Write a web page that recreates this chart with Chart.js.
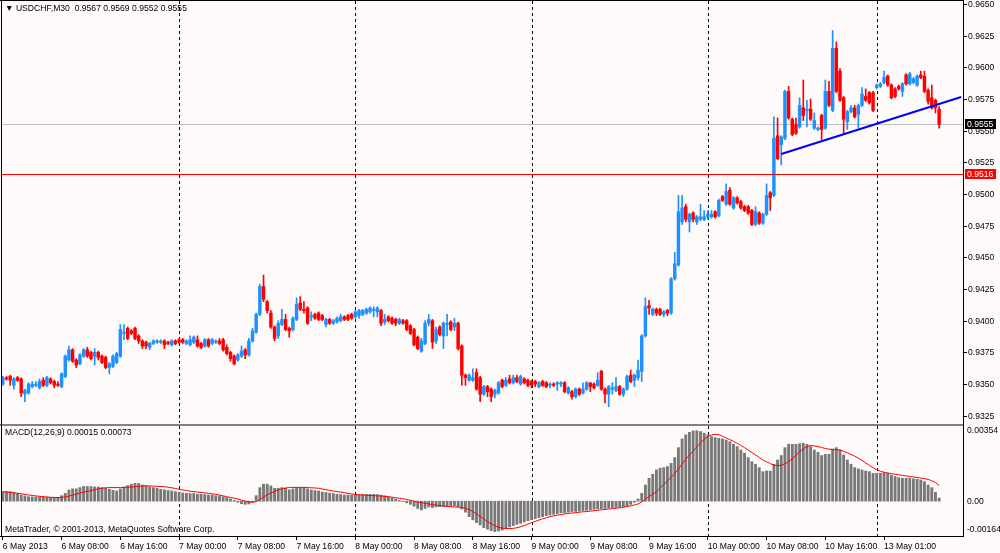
<!DOCTYPE html>
<html>
<head>
<meta charset="utf-8">
<script src="https://cdn.jsdelivr.net/npm/chart.js@4.4.1/dist/chart.umd.min.js"></script>
<style>
  html, body { margin: 0; padding: 0; background: #fffafa; }
  #wrap { position: relative; width: 1000px; height: 553px; overflow: hidden; background: #fffafa; }
  canvas { position: absolute; left: 0; }
  #main { top: 0; width: 1000px; height: 424px; }
  #macd { top: 424px; width: 1000px; height: 129px; }
</style>
</head>
<body>
<div id="wrap">
  <canvas id="main" width="1000" height="424"></canvas>
  <canvas id="macd" width="1000" height="129"></canvas>
</div>
<script>
// USDCHF M30, 6 May 2013 00:00 -> 13 May 2013 ~09:00 (256 bars)
const open = [
  0.9350,0.9355,0.9356,0.9349,0.9355,0.9354,0.9342,0.9343,0.9348,0.9349,
  0.9347,0.9353,0.9349,0.9354,0.9352,0.9350,0.9348,0.9356,0.9369,0.9377,
  0.9369,0.9366,0.9372,0.9377,0.9375,0.9372,0.9375,0.9372,0.9371,0.9363,
  0.9364,0.9367,0.9372,0.9390,0.9394,0.9392,0.9394,0.9388,0.9384,0.9383,
  0.9379,0.9382,0.9383,0.9383,0.9384,0.9383,0.9381,0.9384,0.9385,0.9385,
  0.9382,0.9381,0.9383,0.9385,0.9382,0.9380,0.9385,0.9382,0.9383,0.9384,
  0.9385,0.9379,0.9375,0.9372,0.9369,0.9372,0.9377,0.9373,0.9384,0.9391,
  0.9405,0.9427,0.9415,0.9406,0.9395,0.9388,0.9397,0.9401,0.9394,0.9393,
  0.9401,0.9414,0.9409,0.9410,0.9403,0.9405,0.9406,0.9404,0.9397,0.9401,
  0.9398,0.9399,0.9400,0.9403,0.9404,0.9405,0.9403,0.9404,0.9405,0.9406,
  0.9407,0.9408,0.9407,0.9408,0.9399,0.9403,0.9402,0.9401,0.9398,0.9400,
  0.9400,0.9396,0.9393,0.9387,0.9376,0.9382,0.9398,0.9400,0.9384,0.9395,
  0.9388,0.9397,0.9399,0.9395,0.9398,0.9380,0.9357,0.9353,0.9353,0.9359,
  0.9355,0.9342,0.9348,0.9346,0.9342,0.9343,0.9353,0.9349,0.9354,0.9351,
  0.9355,0.9350,0.9354,0.9353,0.9352,0.9352,0.9348,0.9352,0.9351,0.9349,
  0.9350,0.9350,0.9350,0.9351,0.9343,0.9344,0.9340,0.9346,0.9343,0.9346,
  0.9351,0.9350,0.9349,0.9360,0.9346,0.9342,0.9346,0.9345,0.9348,0.9342,
  0.9346,0.9357,0.9353,0.9355,0.9360,0.9388,0.9412,0.9405,0.9409,0.9409,
  0.9405,0.9408,0.9406,0.9433,0.9444,0.9478,0.9490,0.9478,0.9485,0.9478,
  0.9480,0.9480,0.9482,0.9482,0.9486,0.9483,0.9498,0.9492,0.9503,0.9489,
  0.9497,0.9494,0.9490,0.9490,0.9487,0.9476,0.9485,0.9477,0.9484,0.9501,
  0.9499,0.9546,0.9539,0.9544,0.9581,0.9559,0.9555,0.9553,0.9568,0.9566,
  0.9567,0.9552,0.9551,0.9562,0.9552,0.9581,0.9566,0.9615,0.9597,0.9576,
  0.9557,0.9565,0.9568,0.9563,0.9570,0.9577,0.9580,0.9580,0.9584,0.9585,
  0.9588,0.9593,0.9586,0.9583,0.9585,0.9581,0.9594,0.9587,0.9588,0.9586,
  0.9594,0.9593,0.9582,0.9576,0.9574,0.9567
];
const high = [
  0.9356,0.9356,0.9357,0.9355,0.9356,0.9355,0.9346,0.9351,0.9352,0.9352,
  0.9354,0.9355,0.9356,0.9355,0.9353,0.9352,0.9359,0.9373,0.9380,0.9378,
  0.9370,0.9374,0.9378,0.9379,0.9376,0.9378,0.9376,0.9373,0.9372,0.9367,
  0.9373,0.9375,0.9397,0.9397,0.9395,0.9393,0.9395,0.9389,0.9385,0.9384,
  0.9383,0.9385,0.9385,0.9385,0.9385,0.9384,0.9385,0.9385,0.9386,0.9386,
  0.9385,0.9388,0.9388,0.9388,0.9383,0.9386,0.9386,0.9386,0.9385,0.9386,
  0.9386,0.9381,0.9376,0.9373,0.9374,0.9380,0.9378,0.9386,0.9394,0.9406,
  0.9429,0.9436,0.9416,0.9408,0.9396,0.9400,0.9409,0.9405,0.9395,0.9403,
  0.9418,0.9419,0.9415,0.9411,0.9407,0.9406,0.9407,0.9405,0.9402,0.9402,
  0.9401,0.9403,0.9405,0.9404,0.9405,0.9406,0.9408,0.9409,0.9409,0.9410,
  0.9411,0.9411,0.9411,0.9409,0.9405,0.9404,0.9403,0.9402,0.9402,0.9401,
  0.9401,0.9397,0.9394,0.9388,0.9386,0.9400,0.9405,0.9401,0.9395,0.9396,
  0.9399,0.9405,0.9400,0.9402,0.9399,0.9381,0.9358,0.9358,0.9362,0.9362,
  0.9356,0.9349,0.9349,0.9347,0.9346,0.9352,0.9354,0.9355,0.9357,0.9357,
  0.9357,0.9357,0.9355,0.9354,0.9353,0.9353,0.9352,0.9353,0.9352,0.9351,
  0.9351,0.9352,0.9352,0.9352,0.9348,0.9345,0.9347,0.9347,0.9351,0.9352,
  0.9351,0.9351,0.9359,0.9361,0.9347,0.9349,0.9351,0.9355,0.9349,0.9347,
  0.9357,0.9361,0.9358,0.9369,0.9389,0.9418,0.9416,0.9410,0.9410,0.9410,
  0.9408,0.9409,0.9434,0.9454,0.9499,0.9499,0.9492,0.9485,0.9486,0.9483,
  0.9492,0.9487,0.9487,0.9487,0.9487,0.9496,0.9499,0.9508,0.9505,0.9498,
  0.9498,0.9495,0.9491,0.9491,0.9488,0.9490,0.9486,0.9485,0.9508,0.9502,
  0.9561,0.9560,0.9546,0.9582,0.9585,0.9560,0.9560,0.9576,0.9590,0.9574,
  0.9575,0.9564,0.9553,0.9563,0.9590,0.9589,0.9629,0.9620,0.9599,0.9577,
  0.9566,0.9570,0.9570,0.9571,0.9584,0.9583,0.9581,0.9581,0.9587,0.9588,
  0.9597,0.9594,0.9587,0.9584,0.9586,0.9588,0.9595,0.9596,0.9592,0.9594,
  0.9597,0.9597,0.9583,0.9586,0.9575,0.9569
];
const low = [
  0.9349,0.9353,0.9349,0.9346,0.9352,0.9340,0.9336,0.9342,0.9347,0.9348,
  0.9346,0.9348,0.9348,0.9350,0.9347,0.9348,0.9347,0.9355,0.9368,0.9367,
  0.9363,0.9365,0.9371,0.9371,0.9369,0.9365,0.9369,0.9366,0.9362,0.9358,
  0.9363,0.9366,0.9371,0.9385,0.9385,0.9389,0.9385,0.9382,0.9378,0.9378,
  0.9377,0.9381,0.9382,0.9382,0.9378,0.9381,0.9380,0.9381,0.9382,0.9382,
  0.9381,0.9380,0.9382,0.9379,0.9378,0.9379,0.9379,0.9381,0.9382,0.9381,
  0.9376,0.9373,0.9368,0.9365,0.9368,0.9371,0.9370,0.9372,0.9383,0.9390,
  0.9404,0.9415,0.9406,0.9394,0.9384,0.9386,0.9396,0.9392,0.9387,0.9392,
  0.9400,0.9408,0.9406,0.9397,0.9400,0.9401,0.9400,0.9400,0.9395,0.9397,
  0.9397,0.9398,0.9399,0.9400,0.9400,0.9401,0.9402,0.9402,0.9404,0.9405,
  0.9406,0.9403,0.9403,0.9396,0.9397,0.9399,0.9397,0.9396,0.9397,0.9397,
  0.9392,0.9389,0.9380,0.9377,0.9375,0.9381,0.9396,0.9378,0.9382,0.9388,
  0.9378,0.9388,0.9392,0.9392,0.9377,0.9349,0.9349,0.9352,0.9352,0.9345,
  0.9336,0.9341,0.9340,0.9336,0.9339,0.9342,0.9347,0.9348,0.9350,0.9350,
  0.9351,0.9349,0.9350,0.9348,0.9347,0.9348,0.9347,0.9348,0.9347,0.9347,
  0.9348,0.9345,0.9348,0.9343,0.9342,0.9338,0.9339,0.9341,0.9342,0.9345,
  0.9344,0.9346,0.9348,0.9345,0.9335,0.9332,0.9342,0.9344,0.9341,0.9340,
  0.9345,0.9351,0.9348,0.9353,0.9352,0.9387,0.9405,0.9404,0.9404,0.9404,
  0.9403,0.9404,0.9405,0.9432,0.9443,0.9476,0.9478,0.9470,0.9478,0.9476,
  0.9479,0.9479,0.9480,0.9481,0.9481,0.9482,0.9494,0.9491,0.9491,0.9488,
  0.9492,0.9488,0.9486,0.9484,0.9475,0.9475,0.9476,0.9476,0.9483,0.9487,
  0.9498,0.9527,0.9523,0.9543,0.9559,0.9546,0.9547,0.9552,0.9558,0.9553,
  0.9558,0.9551,0.9550,0.9543,0.9551,0.9569,0.9565,0.9580,0.9573,0.9547,
  0.9551,0.9564,0.9560,0.9552,0.9569,0.9573,0.9571,0.9565,0.9583,0.9584,
  0.9587,0.9585,0.9575,0.9576,0.9582,0.9577,0.9586,0.9586,0.9587,0.9585,
  0.9591,0.9580,0.9571,0.9567,0.9564,0.9552
];
const close = [
  0.9355,0.9354,0.9353,0.9354,0.9353,0.9343,0.9345,0.9350,0.9350,0.9350,
  0.9352,0.9349,0.9355,0.9351,0.9349,0.9349,0.9358,0.9372,0.9377,0.9368,
  0.9365,0.9373,0.9377,0.9372,0.9370,0.9375,0.9371,0.9367,0.9363,0.9366,
  0.9372,0.9374,0.9393,0.9391,0.9386,0.9390,0.9386,0.9384,0.9380,0.9380,
  0.9382,0.9384,0.9384,0.9384,0.9381,0.9382,0.9384,0.9382,0.9383,0.9383,
  0.9384,0.9385,0.9387,0.9380,0.9379,0.9385,0.9380,0.9385,0.9384,0.9382,
  0.9377,0.9374,0.9370,0.9366,0.9373,0.9376,0.9373,0.9384,0.9392,0.9405,
  0.9427,0.9417,0.9408,0.9395,0.9386,0.9398,0.9401,0.9393,0.9392,0.9402,
  0.9413,0.9409,0.9408,0.9398,0.9404,0.9402,0.9401,0.9401,0.9401,0.9398,
  0.9400,0.9402,0.9403,0.9401,0.9401,0.9402,0.9407,0.9408,0.9408,0.9409,
  0.9410,0.9409,0.9410,0.9398,0.9401,0.9400,0.9398,0.9398,0.9401,0.9398,
  0.9393,0.9390,0.9381,0.9378,0.9384,0.9398,0.9401,0.9383,0.9393,0.9389,
  0.9398,0.9398,0.9393,0.9398,0.9378,0.9357,0.9355,0.9357,0.9355,0.9346,
  0.9342,0.9348,0.9344,0.9340,0.9345,0.9351,0.9348,0.9353,0.9351,0.9355,
  0.9352,0.9356,0.9351,0.9349,0.9349,0.9350,0.9351,0.9349,0.9348,0.9350,
  0.9349,0.9351,0.9351,0.9344,0.9347,0.9340,0.9346,0.9342,0.9346,0.9351,
  0.9348,0.9347,0.9353,0.9346,0.9342,0.9348,0.9347,0.9348,0.9342,0.9346,
  0.9356,0.9352,0.9357,0.9361,0.9388,0.9411,0.9410,0.9409,0.9406,0.9405,
  0.9407,0.9406,0.9433,0.9445,0.9486,0.9489,0.9480,0.9484,0.9480,0.9482,
  0.9482,0.9482,0.9484,0.9484,0.9482,0.9495,0.9495,0.9502,0.9492,0.9497,
  0.9493,0.9489,0.9487,0.9485,0.9476,0.9486,0.9477,0.9484,0.9499,0.9497,
  0.9544,0.9528,0.9545,0.9581,0.9560,0.9547,0.9548,0.9570,0.9562,0.9567,
  0.9559,0.9558,0.9552,0.9551,0.9581,0.9570,0.9615,0.9581,0.9574,0.9559,
  0.9565,0.9568,0.9561,0.9570,0.9579,0.9574,0.9572,0.9566,0.9586,0.9587,
  0.9592,0.9586,0.9576,0.9577,0.9583,0.9587,0.9587,0.9595,0.9591,0.9593,
  0.9592,0.9581,0.9573,0.9568,0.9568,0.9555
];

// MACD(12,26,9), values in units of 0.0001
const MACD_UNIT = 0.0001;
const macdHist = [
  4.5,4.5,4.5,4.2,3.7,2.9,2.5,2.1,2.0,2.0,
  2.0,2.0,1.8,1.8,1.7,1.8,2.6,3.7,5.3,5.8,
  5.8,6.4,6.9,6.9,6.9,6.7,6.7,6.4,6.1,5.6,
  5.1,4.8,5.8,6.7,7.3,8.0,8.4,8.3,7.6,7.2,
  6.7,6.4,6.1,5.6,5.3,5.0,4.8,4.5,4.2,3.9,
  3.7,3.6,3.6,3.2,3.2,3.1,2.9,2.9,2.6,2.5,
  2.1,1.7,1.0,0.4,-0.5,-1.2,-1.5,-1.3,-0.5,2.6,
  6.4,8.0,8.0,7.2,6.1,6.1,6.4,6.1,5.3,5.8,
  6.4,6.4,6.1,5.8,5.3,5.0,4.8,4.3,4.1,3.8,
  3.6,3.2,3.1,2.9,2.9,2.8,2.8,2.9,3.1,3.2,
  3.2,3.2,3.1,2.8,2.5,2.0,1.5,1.0,0.4,-0.2,
  -0.8,-1.5,-2.4,-3.4,-4.1,-3.4,-2.7,-3.0,-2.7,-2.6,
  -2.4,-2.3,-2.1,-2.1,-2.6,-3.7,-5.2,-7.3,-8.8,-10.1,
  -11.2,-12.5,-13.2,-13.9,-14.3,-14.0,-13.6,-12.9,-12.1,-11.5,
  -10.9,-10.4,-9.8,-9.2,-8.7,-8.2,-7.7,-7.3,-6.8,-6.5,
  -6.2,-5.9,-5.5,-5.4,-5.2,-4.9,-4.8,-4.6,-4.4,-4.3,
  -4.1,-3.8,-3.7,-3.5,-3.4,-3.2,-3.0,-2.9,-2.7,-2.6,
  -2.1,-1.5,-0.5,1.0,3.7,7.6,10.8,12.7,14.7,15.5,
  15.8,16.3,17.8,20.5,25.2,29.3,31.2,32.4,33.1,33.2,
  32.8,32.0,31.2,30.4,29.9,29.6,29.3,28.8,28.0,26.8,
  25.7,24.1,22.6,20.5,18.6,17.4,15.8,13.9,14.2,14.2,
  17.4,19.4,21.5,25.2,26.8,26.8,26.8,27.1,27.3,26.8,
  25.7,24.1,23.0,21.5,22.1,22.1,24.6,25.2,24.1,21.8,
  19.4,17.4,15.8,15.2,14.7,14.2,13.9,13.1,13.1,13.1,
  13.4,13.1,12.3,11.6,11.1,10.8,10.8,10.8,10.5,10.3,
  10.0,9.2,7.6,6.4,4.2,1.5
];
const macdSignal = [
  4.4,4.3,4.1,3.9,3.7,3.5,3.2,2.9,2.7,2.5,
  2.3,2.1,2.0,1.8,1.8,1.7,1.8,2.0,2.4,2.8,
  3.3,3.8,4.3,4.6,5.0,5.4,5.8,6.1,6.3,6.4,
  6.4,6.4,6.4,6.5,6.6,6.7,6.8,7.0,7.2,7.2,
  7.2,7.1,7.0,6.9,6.8,6.6,6.3,6.0,5.6,5.3,
  5.0,4.7,4.5,4.3,4.1,3.9,3.7,3.5,3.2,2.9,
  2.5,2.1,1.7,1.4,1.0,0.5,0.0,-0.3,-0.5,-0.2,
  0.8,1.9,3.0,3.8,4.6,5.3,5.8,6.2,6.4,6.5,
  6.5,6.5,6.5,6.4,6.3,6.2,6.1,5.7,5.4,5.1,
  4.8,4.5,4.3,4.0,3.7,3.4,3.2,3.0,2.9,2.8,
  2.7,2.6,2.5,2.4,2.3,2.1,1.9,1.6,1.4,1.1,
  0.8,0.4,0.0,-0.4,-0.7,-1.0,-1.3,-1.6,-1.9,-2.1,
  -2.3,-2.5,-2.6,-2.7,-2.8,-3.0,-3.4,-4.0,-4.9,-6.0,
  -7.2,-8.4,-9.6,-10.7,-11.6,-12.3,-12.7,-12.9,-12.9,-12.8,
  -12.5,-12.1,-11.5,-10.8,-10.1,-9.5,-8.9,-8.3,-7.8,-7.3,
  -6.9,-6.6,-6.3,-6.0,-5.8,-5.6,-5.4,-5.2,-5.0,-4.9,
  -4.7,-4.5,-4.3,-4.1,-3.9,-3.7,-3.5,-3.3,-3.1,-2.8,
  -2.5,-2.2,-1.8,-1.3,-0.4,0.9,2.2,3.3,4.4,6.1,
  7.9,9.6,11.2,13.0,15.2,17.4,19.7,21.7,23.6,25.6,
  27.4,29.2,30.5,31.2,31.5,31.3,30.6,29.8,29.0,28.2,
  27.2,26.3,25.2,24.1,22.9,21.8,20.6,19.4,18.6,17.7,
  17.0,16.7,16.9,17.6,18.6,20.0,21.6,23.2,24.7,25.7,
  26.2,26.0,25.7,25.3,24.8,24.5,24.3,24.2,24.1,23.5,
  22.8,22.0,21.2,20.3,19.2,18.0,16.9,15.8,14.8,14.1,
  13.6,13.3,13.0,12.7,12.4,12.1,11.9,11.6,11.4,11.1,
  10.9,10.6,10.3,9.6,8.8,7.3
];

// axis ticks and time labels (bar index -> label)
const priceTicks = [0.9650,0.9625,0.9600,0.9575,0.9550,0.9525,0.9500,0.9475,0.9450,0.9425,0.9400,0.9375,0.9350,0.9325];
const macdTicks = [0.00354, 0, -0.00164];
const timeTickIdx = [0,16,32,48,64,80,96,112,128,144,160,176,192,208,224,240];
const timeTickText = ['6 May 2013','6 May 08:00','6 May 16:00','7 May 00:00','7 May 08:00','7 May 16:00',
  '8 May 00:00','8 May 08:00','8 May 16:00','9 May 00:00','9 May 08:00','9 May 16:00',
  '10 May 00:00','10 May 08:00','10 May 16:00','13 May 01:00'];
const daySepIdx = [48,96,144,192,238];

// chart objects
const bidPrice = 0.9555;
const redLevel = 0.9516;
const trendline = [[212, 0.95316], [261, 0.95766]];

const SLOTS = 262;
const PRICE_MIN = 0.931924, PRICE_MAX = 0.965237;
const MACD_MIN = -0.00164, MACD_MAX = 0.00354;
const UP = '#1e90ff', DOWN = '#ff0000';
const FONT = '8.6px "Liberation Sans", Arial, sans-serif';

const slots = Array.from({ length: SLOTS }, (_, i) => i);
const candleColor = close.map((c, i) => (c >= open[i] ? UP : DOWN));
const last = close.length - 1;

function drawDaySeps(ctx, a, x) {
  ctx.save();
  ctx.strokeStyle = '#000';
  ctx.lineWidth = 1;
  ctx.setLineDash([3, 3]);
  daySepIdx.forEach(i => {
    const px = Math.round(x.getPixelForValue(i)) + 0.5;
    ctx.beginPath();
    ctx.moveTo(px, a.top);
    ctx.lineTo(px, a.bottom);
    ctx.stroke();
  });
  ctx.restore();
}

const mainDecor = {
  id: 'mainDecor',
  beforeDatasetsDraw(chart) {
    const { ctx, chartArea: a, scales: { x, y } } = chart;
    ctx.save();
    const by = Math.round(y.getPixelForValue(bidPrice)) + 0.5;
    ctx.strokeStyle = '#c0c0c0';
    ctx.lineWidth = 1;
    ctx.beginPath(); ctx.moveTo(a.left, by); ctx.lineTo(a.right, by); ctx.stroke();
    ctx.restore();
    drawDaySeps(ctx, a, x);
  },
  afterDraw(chart) {
    const { ctx, chartArea: a, scales: { y } } = chart;
    ctx.save();
    // red horizontal level
    const ry = Math.round(y.getPixelForValue(redLevel)) + 0.5;
    ctx.strokeStyle = '#ff0000';
    ctx.lineWidth = 1;
    ctx.beginPath(); ctx.moveTo(a.left, ry); ctx.lineTo(a.right, ry); ctx.stroke();

    // frame
    ctx.fillStyle = '#000';
    ctx.fillRect(0, 0, a.right + 1, 1);
    ctx.fillRect(1, 0, 1, chart.height);
    ctx.fillRect(a.right, 0, 1, chart.height);

    // price scale
    ctx.font = FONT;
    ctx.textBaseline = 'middle';
    ctx.textAlign = 'left';
    priceTicks.forEach(v => {
      const py = Math.round(y.getPixelForValue(v));
      ctx.fillStyle = '#000';
      ctx.fillRect(a.right, py, 4, 1);
      ctx.fillText(v.toFixed(4), a.right + 5, py + 0.5);
    });
    [[bidPrice, '#000000'], [redLevel, '#ff0000']].forEach(([v, col]) => {
      const py = Math.round(y.getPixelForValue(v));
      ctx.fillStyle = col;
      ctx.fillRect(a.right + 2, py - 5, 31, 10);
      ctx.fillStyle = '#fff';
      ctx.fillText(v.toFixed(4), a.right + 4, py + 0.5);
    });

    // header
    ctx.fillStyle = '#000';
    const hdr = [open[last], high[last], low[last], close[last]].map(v => v.toFixed(4)).join(' ');
    ctx.fillText('\u25BC USDCHF,M30  ' + hdr, 5, 8.5);
    ctx.restore();
  }
};

const macdDecor = {
  id: 'macdDecor',
  beforeDatasetsDraw(chart) {
    drawDaySeps(chart.ctx, chart.chartArea, chart.scales.x);
  },
  afterDraw(chart) {
    const { ctx, chartArea: a, scales: { y } } = chart;
    ctx.save();
    ctx.fillStyle = '#808080';
    ctx.fillRect(0, 0, a.right + 1, 2);
    ctx.fillStyle = '#000';
    ctx.fillRect(1, 0, 1, a.bottom + 1);
    ctx.fillRect(0, a.bottom, a.right + 1, 1);
    ctx.fillRect(a.right, 0, 1, a.bottom + 1);

    ctx.font = FONT;
    ctx.textBaseline = 'middle';
    ctx.textAlign = 'left';
    macdTicks.forEach(v => {
      let py = y.getPixelForValue(v);
      py = Math.min(Math.max(py, a.top + 5), a.bottom - 6);
      ctx.fillText(v === 0 ? '0.00' : v.toFixed(5), a.right + 4, py);
    });

    const m = (macdHist[last] * MACD_UNIT).toFixed(5);
    const s = (macdSignal[last] * MACD_UNIT).toFixed(5);
    ctx.fillText('MACD(12,26,9) ' + m + ' ' + s, 5, 9);
    ctx.fillText('MetaTrader, \u00A9 2001-2013, MetaQuotes Software Corp.', 5, 105.5);
    ctx.restore();
  }
};

Chart.defaults.font.family = '"Liberation Sans", Arial, sans-serif';
Chart.defaults.font.size = 8.6;
Chart.defaults.color = '#000';

new Chart(document.getElementById('main'), {
  type: 'bar',
  data: {
    labels: slots,
    datasets: [
      {
        data: low.map((l, i) => [l, high[i]]),
        backgroundColor: candleColor,
        barThickness: 1,
        grouped: false,
        order: 2
      },
      {
        data: open.map((o, i) => [o, close[i]]),
        backgroundColor: candleColor,
        barThickness: 2.8,
        minBarLength: 1,
        grouped: false,
        order: 1
      },
      {
        type: 'line',
        data: trendline.map(p => ({ x: p[0], y: p[1] })),
        borderColor: '#0000ff',
        borderWidth: 2,
        pointRadius: 0,
        order: 0
      }
    ]
  },
  options: {
    responsive: false,
    animation: false,
    layout: { padding: { left: 1, top: 1, right: 0, bottom: 1 } },
    plugins: { legend: { display: false }, tooltip: { enabled: false } },
    scales: {
      x: { type: 'category', offset: true, display: false },
      y: {
        type: 'linear', position: 'right', min: PRICE_MIN, max: PRICE_MAX,
        ticks: { display: false }, grid: { display: false }, border: { display: false },
        afterFit: s => { s.width = 37; }
      }
    }
  },
  plugins: [mainDecor]
});

new Chart(document.getElementById('macd'), {
  type: 'bar',
  data: {
    labels: slots,
    datasets: [
      {
        data: macdHist.map(v => v * MACD_UNIT),
        backgroundColor: '#787878',
        barThickness: 2.2,
        order: 1
      },
      {
        type: 'line',
        data: macdSignal.map(v => v * MACD_UNIT),
        borderColor: '#ff0000',
        borderWidth: 1,
        pointRadius: 0,
        tension: 0,
        order: 0
      }
    ]
  },
  options: {
    responsive: false,
    animation: false,
    layout: { padding: { left: 1, top: 2, right: 0, bottom: 0 } },
    plugins: { legend: { display: false }, tooltip: { enabled: false } },
    scales: {
      x: {
        type: 'category', offset: true,
        grid: { display: true, drawOnChartArea: false, drawTicks: true, tickLength: 4, offset: false, color: '#000' },
        border: { display: false },
        ticks: {
          autoSkip: false, maxRotation: 0, minRotation: 0, align: 'start', padding: 1,
          color: '#000', font: { size: 8.6 },
          callback: (v, i) => timeTickText[i]
        },
        afterBuildTicks: s => { s.ticks = timeTickIdx.map(v => ({ value: v })); },
        afterFit: s => { s.height = 17; }
      },
      y: {
        type: 'linear', position: 'right', min: MACD_MIN, max: MACD_MAX,
        ticks: { display: false }, grid: { display: false }, border: { display: false },
        afterFit: s => { s.width = 37; }
      }
    }
  },
  plugins: [macdDecor]
});
</script>
</body>
</html>
